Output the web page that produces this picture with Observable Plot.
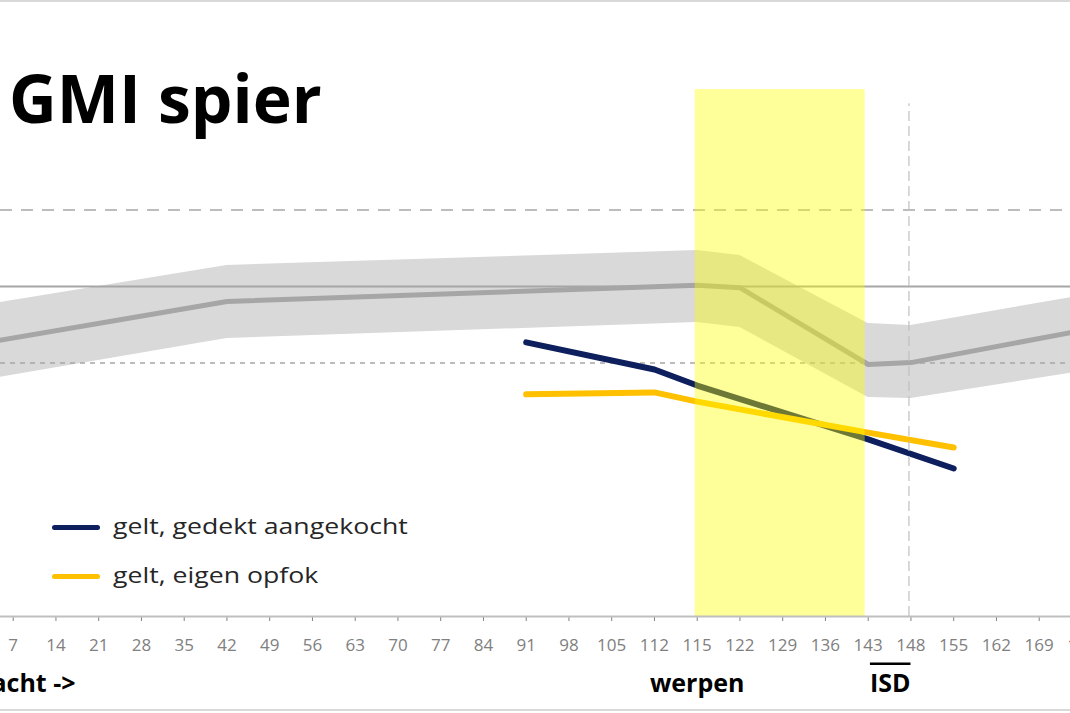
<!DOCTYPE html>
<html>
<head>
<meta charset="utf-8">
<script src="https://cdn.jsdelivr.net/npm/d3@7"></script>
<script src="https://cdn.jsdelivr.net/npm/@observablehq/plot@0.6"></script>
<style>
  body { margin: 0; background: #fff; }
  #wrap { position: relative; width: 1070px; height: 713px; overflow: hidden; font-family: "Open Sans", sans-serif; background: #fff; }
  #chart { position: absolute; left: 0; top: 0; }
  #title { position: absolute; left: 9px; top: 64px; font-size: 66px; font-weight: 700; line-height: 1; color: #000; white-space: nowrap; }
  .leg { position: absolute; left: 113px; font-size: 21px; line-height: 1; color: #262626; white-space: nowrap; transform: scaleX(1.27); transform-origin: 0 0; }
  .sw { position: absolute; left: 52px; width: 48px; height: 5px; border-radius: 3px; }
  .edge { position: absolute; left: 0; width: 1070px; height: 2px; background: #d9d9d9; }
</style>
</head>
<body>
<div id="wrap">
  <div id="chart"></div>
  <div id="title">GMI spier</div>
  <div class="sw" style="top:525px;background:#0d1f5c"></div>
  <div class="leg" id="leg1" style="top:516px"></div>
  <div class="sw" style="top:574px;background:#ffc000"></div>
  <div class="leg" id="leg2" style="top:565px"></div>
  <div class="edge" style="top:0"></div>
  <div class="edge" style="top:709px"></div>
</div>
<script>
// x categories (days)
const days = ["0","7","14","21","28","35","42","49","56","63","70","77","84","91","98","105","112","115","122","129","136","143","148","155","162","169","176"];

// reference band (grey): mean, upper and lower
const bandDays = ["0","42","115","122","143","148","176"];
const bandMean = [84.6, 96.1, 100.3, 99.7, 79.6, 80.1, 88.5];
const bandHigh = [94.5, 105.5, 109.4, 108.1, 90.3, 89.8, 97.6];
const bandLow  = [74.9, 86.4, 90.6, 89.3, 71.0, 70.7, 77.8];

// measured series
const seriesNames = ["gelt, gedekt aangekocht", "gelt, eigen opfok"];
const seriesColors = ["#0d1f5c", "#ffc000"];
const sowDays = ["91","112","115","143","155"];
const boughtGilts = [85.4, 78.3, 74.1, 60.0, 52.4];
const ownGilts    = [71.8, 72.3, 69.9, 61.8, 57.9];

// reference lines
const refUpper = 120, refMean = 100, refLower = 80;

// farrowing window and weaning marker
const farrowWindow = [["115", "143"]];
const farrowTop = 151.5;
const weaningDay = ["148"];
const weaningTop = 147.8;

// labels under axis
const farrowLabel = "werpen", farrowDay = "115";
const weaningLabel = "ISD", weaningLabelDay = "143";
const axisNote = "dagen dracht ->";

const yDomain = [13.7, 174.8];

document.getElementById("leg1").textContent = seriesNames[0];
document.getElementById("leg2").textContent = seriesNames[1];

const band = bandDays.map((d, i) => ({day: d, mean: bandMean[i], hi: bandHigh[i], lo: bandLow[i]}));
const s1 = sowDays.map((d, i) => ({day: d, v: boughtGilts[i]}));
const s2 = sowDays.map((d, i) => ({day: d, v: ownGilts[i]}));

const plot = Plot.plot({
  width: 1070,
  height: 713,
  marginTop: 0,
  marginRight: 0,
  marginBottom: 97,
  marginLeft: 0,
  style: {fontFamily: "Open Sans", fontSize: "17px", color: "#808080", overflow: "visible", background: "transparent"},
  x: {type: "point", domain: days, range: [12.7 - 42.75, 12.7 + 25 * 42.75], padding: 0, round: false, tickSize: 5, tickPadding: 17, label: null},
  y: {domain: yDomain, axis: null},
  marks: [
    Plot.areaY(band, {x: "day", y1: "lo", y2: "hi", fill: "#d9d9d9", curve: "linear"}),
    Plot.ruleY([refUpper], {stroke: "#a6a6a6", strokeWidth: 1.5, strokeDasharray: "12,9"}),
    Plot.ruleY([refMean], {stroke: "#a6a6a6", strokeWidth: 2}),
    Plot.ruleY([refLower], {stroke: "#a6a6a6", strokeWidth: 1.3, strokeDasharray: "5,5"}),
    Plot.line(band, {x: "day", y: "mean", stroke: "#a6a6a6", strokeWidth: 5}),
    Plot.line(s1, {x: "day", y: "v", stroke: seriesColors[0], strokeWidth: 6, strokeLinecap: "round", strokeLinejoin: "round"}),
    Plot.line(s2, {x: "day", y: "v", stroke: seriesColors[1], strokeWidth: 6, strokeLinecap: "round", strokeLinejoin: "round"}),
    Plot.rect(farrowWindow, {x1: d => d[0], x2: d => d[1], y1: () => yDomain[0], y2: () => farrowTop, insetLeft: -2, insetRight: 3, fill: "#ffff00", fillOpacity: 0.4}),
    Plot.ruleX(weaningDay, {x: d => d, y1: () => yDomain[0], y2: () => weaningTop, dx: -2, stroke: "#bfbfbf", strokeWidth: 1.2, strokeDasharray: "10,5"}),
    Plot.ruleY([yDomain[0]], {stroke: "#bfbfbf", strokeWidth: 2}),
    Plot.text([farrowLabel], {x: () => farrowDay, frameAnchor: "bottom", lineAnchor: "middle", dy: 67, fontSize: 25, fontWeight: "bold", fill: "#000"}),
    Plot.text([weaningLabel], {x: () => weaningLabelDay, frameAnchor: "bottom", lineAnchor: "middle", dx: 22, dy: 67, fontSize: 25, fontWeight: "bold", fill: "#000"}),
    Plot.text([axisNote], {frameAnchor: "bottom-left", textAnchor: "end", lineAnchor: "middle", dx: 75, dy: 67, fontSize: 25, fontWeight: "bold", fill: "#000"})
  ]
});
d3.select(plot).selectAll("text").filter(function() { return this.textContent === "ISD"; })
  .style("text-decoration", "overline").style("text-decoration-color", "#8c8c8c").style("text-decoration-thickness", "1.5px");
document.getElementById("chart").appendChild(plot);
</script>
</body>
</html>
